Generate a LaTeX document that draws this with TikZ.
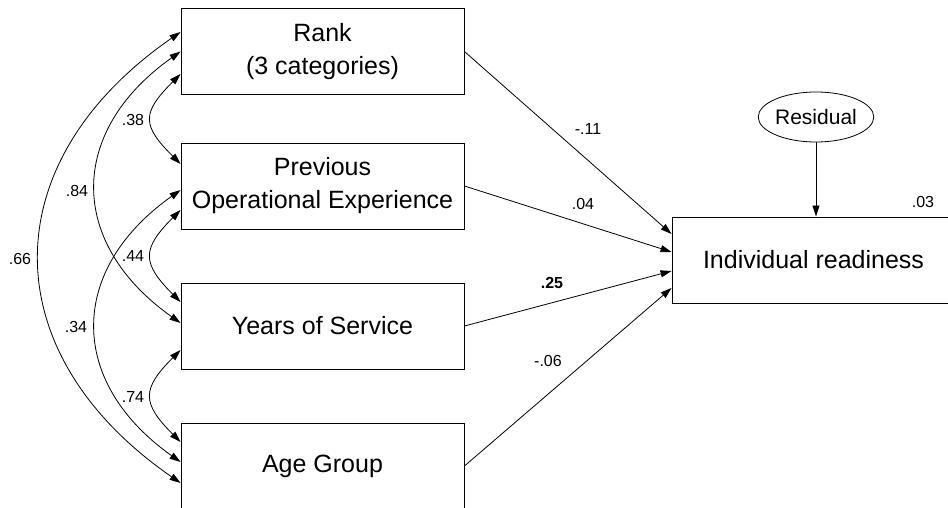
\documentclass[tikz,border=0pt]{standalone}
\usepackage{fontspec}
\setmainfont{Liberation Sans}
\usetikzlibrary{arrows.meta,shapes.geometric}

\begin{document}
\begin{tikzpicture}[x=1pt,y=-1pt,>={Triangle[length=11pt,width=7pt]},
  var/.style={draw,line width=.9pt,minimum width=283pt,minimum height=86pt,
    inner sep=0pt,align=center,font=\fontsize{25}{33}\selectfont},
  coef/.style={font=\fontsize{16}{18}\selectfont,inner sep=0pt},
  effect/.style={->,line width=.8pt},
  cov/.style={<->,line width=.8pt}]
 \useasboundingbox (0,0) rectangle (948,508);
 \clip (0,0) rectangle (948,508);
 % observed variables
 \node[var] (rank) at (322.5,51.5) {Rank\\(3 categories)};
 \node[var] (prev) at (322.5,186) {Previous\\Operational Experience};
 \node[var] (years) at (322.5,326) {Years of Service};
 \node[var] (age) at (322.5,466) {Age Group};
 \node[var] (ir) at (813.5,260) {Individual readiness};
 \node[draw,ellipse,line width=.8pt,minimum width=99pt,minimum height=50pt,
    inner sep=0pt,font=\fontsize{21}{24}\selectfont] (res) at (816,117) {Residual};
 % correlations
 \draw[cov] ([yshift=-22.5]rank.west) .. controls +(-39,39) and +(-39,-39) .. ([yshift=22]prev.west);
 \draw[cov] (rank.west) .. controls +(-113,80) and +(-113,-80) .. ([yshift=3]years.west);
 \draw[cov] ([yshift=19.5]rank.west) .. controls +(-188,130) and +(-188,-130) .. ([yshift=-17]age.west);
 \draw[cov] ([yshift=-24]prev.west) .. controls +(-39,39) and +(-39,-39) .. ([yshift=24]years.west);
 \draw[cov] ([yshift=-4]prev.west) .. controls +(-113,80) and +(-113,-80) .. ([yshift=4]age.west);
 \draw[cov] ([yshift=-24]years.west) .. controls +(-39,39) and +(-39,-39) .. ([yshift=24]age.west);
 % regression paths
 \draw[effect] (rank.east) -- ([yshift=26]ir.west);
 \draw[effect] (prev.east) -- ([yshift=8]ir.west);
 \draw[effect] (years.east) -- ([yshift=-11]ir.west);
 \draw[effect] (age.east) -- ([yshift=-28]ir.west);
 \draw[effect] (res) -- (res |- ir.north);
 % estimates
 \node[coef] (c38) at (133,120) {.38};
 \node[coef] (c84) at (77,191) {.84};
 \node[coef] (c66) at (20,259) {.66};
 \node[coef] (c44) at (133,256) {.44};
 \node[coef] (c34) at (76,327) {.34};
 \node[coef] (c74) at (133,397) {.74};
 \node[coef] (c11) at (588,129) {-.11};
 \node[coef] (c04) at (583,204) {.04};
 \node[coef,font=\fontsize{16}{18}\selectfont\bfseries] (c25) at (552,283) {.25};
 \node[coef] (c06) at (548,361) {-.06};
 \node[coef] (c03) at (923,202) {.03};
\end{tikzpicture}
\end{document}
